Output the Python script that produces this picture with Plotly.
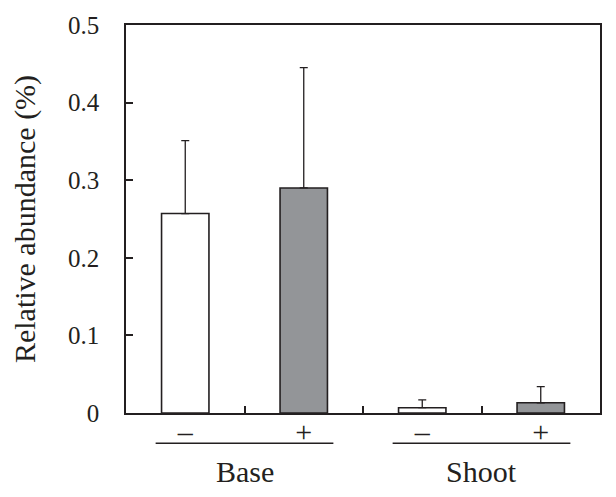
import plotly.graph_objects as go

categories = ["Base –", "Base +", "Shoot –", "Shoot +"]
tick_labels = ["–", "+", "–", "+"]
values = [0.257, 0.290, 0.0068, 0.0132]
errors = [0.094, 0.155, 0.0102, 0.0208]
colors = ["#ffffff", "#939598", "#ffffff", "#939598"]
groups = ["Base", "Shoot"]
group_centers = [0.5, 2.5]

xpos = list(range(len(categories)))
FONT = "Liberation Serif"
INK = "#231f20"

fig = go.Figure()
fig.add_trace(go.Bar(
    x=xpos, y=values, width=0.4,
    marker=dict(color=colors, line=dict(color=INK, width=1.6)),
    error_y=dict(type="data", array=errors, arrayminus=[0]*4, symmetric=False,
                 color=INK, thickness=1.3, width=4),
    showlegend=False,
))

for gc in group_centers:
    fig.add_shape(type="line", xref="x", yref="paper",
                  x0=gc - 0.75, x1=gc + 0.75, y0=-0.078, y1=-0.078,
                  line=dict(color=INK, width=1.5))
for g, gc in zip(groups, group_centers):
    fig.add_annotation(x=gc, y=-0.15, xref="x", yref="paper", text=g,
                       showarrow=False, yanchor="middle",
                       font=dict(family=FONT, size=30, color=INK))

fig.update_layout(
    width=616, height=497,
    margin=dict(l=126, r=16, t=22, b=84),
    paper_bgcolor="white", plot_bgcolor="white",
    font=dict(family=FONT, color=INK),
    bargap=0.6,
)
fig.update_xaxes(
    range=[-0.5, 3.5], tickmode="array", tickvals=xpos, ticktext=tick_labels,
    ticks="", tickfont=dict(family=FONT, size=30, color=INK), ticklabelstandoff=-9,
    showline=True, linecolor=INK, linewidth=1.5, mirror=True,
    showgrid=False, zeroline=False,
    minor=dict(tickvals=[0.5, 1.5, 2.5], ticks="inside", ticklen=7,
               tickwidth=1.5, tickcolor=INK, showgrid=False),
)
fig.update_yaxes(
    range=[0, 0.5], tickmode="array", tickvals=[0, 0.1, 0.2, 0.3, 0.4, 0.5],
    ticktext=["0", "0.1", "0.2", "0.3", "0.4", "0.5"],
    ticks="inside", ticklen=7, tickwidth=1.5, tickcolor=INK,
    tickfont=dict(family=FONT, size=25, color=INK), ticklabelstandoff=20,
    showline=True, linecolor=INK, linewidth=1.5, mirror=True,
    showgrid=False, zeroline=False,
    title=dict(text="Relative abundance (%)", font=dict(family=FONT, size=30, color=INK),
               standoff=24),
)

fig.write_html("out.html", config={"displayModeBar": False},
               post_script="document.body.style.margin='0';")
